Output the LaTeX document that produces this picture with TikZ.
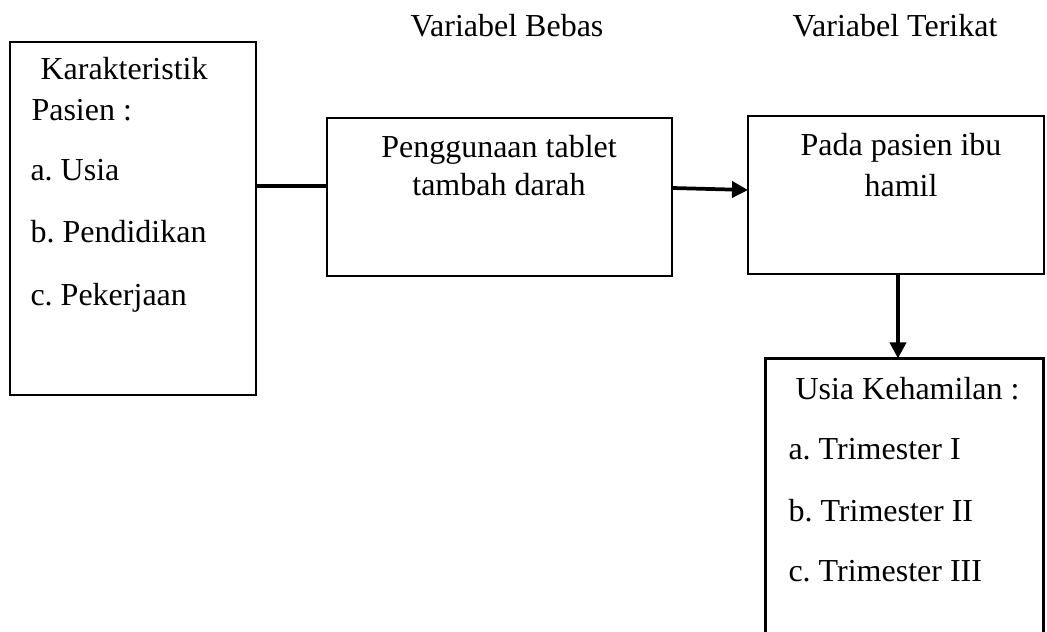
\documentclass[tikz,border=0pt]{standalone}
\usepackage{fontspec}
\setmainfont{Liberation Serif}
\usetikzlibrary{arrows.meta, fit}

\begin{document}
\begin{tikzpicture}[x=0.375pt, y=-0.375pt,
  box/.style={draw, line width=0.9pt, inner sep=0pt},
  txt/.style={inner sep=0pt, font=\fontsize{12}{14}\selectfont\frenchspacing},
  conn/.style={line width=1.4pt},
  arr/.style={conn, -{Triangle[length=6pt, width=6pt]}}]
\useasboundingbox (0,0) rectangle (1047,632);
% --- headings ---
\node[txt, anchor=base] (bebas) at (507,37) {Variabel Bebas};
\node[txt, anchor=base] (terikat) at (895,37) {Variabel Terikat};
% --- left box (karakteristik) ---
\node[box, fit={(10,42) (256,395)}] (pasien) {};
\node[txt, anchor=base west] (k1) at (40,80) {Karakteristik};
\node[txt, anchor=base west] (k2) at (31,121) {Pasien :};
\node[txt, anchor=base west] (k3) at (30,181) {a. Usia};
\node[txt, anchor=base west] (k4) at (30,243) {b. Pendidikan};
\node[txt, anchor=base west] (k5) at (30,306) {c. Pekerjaan};
% --- middle box (tablet) ---
\node[box, fit={(327,118) (672,276)}] (tablet) {};
\node[txt, anchor=base] (t1) at (499,158) {Penggunaan tablet};
\node[txt, anchor=base] (t2) at (499,196) {tambah darah};
% --- right box (ibu hamil) ---
\node[box, fit={(748,116) (1044,274)}] (hamil) {};
\node[txt, anchor=base] (h1) at (901,156) {Pada pasien ibu};
\node[txt, anchor=base] (h2) at (901,197) {hamil};
% --- bottom box (usia kehamilan), runs off the page ---
\node[inner sep=0pt, fit={(766,359) (1043,640)}] (usia) {};
\draw[line width=0.9pt] (usia.south west) |- (usia.north east) -- (usia.south east);
\node[txt, anchor=base west] (u1) at (795,400) {Usia Kehamilan :};
\node[txt, anchor=base west] (u2) at (788,460) {a. Trimester I};
\node[txt, anchor=base west] (u3) at (788,522) {b. Trimester II};
\node[txt, anchor=base west] (u4) at (788,582) {c. Trimester III};
% --- connectors ---
\coordinate (c1) at (256,186);
\draw[conn] (c1) -- (c1 -| tablet.west);
\coordinate (a1) at (672,188);
\coordinate (a2) at (748,190);
\draw[arr] (a1) -- (a2);
\coordinate (d1) at (898,274);
\draw[arr] (d1) -- (d1 |- usia.north);
\end{tikzpicture}
\end{document}
